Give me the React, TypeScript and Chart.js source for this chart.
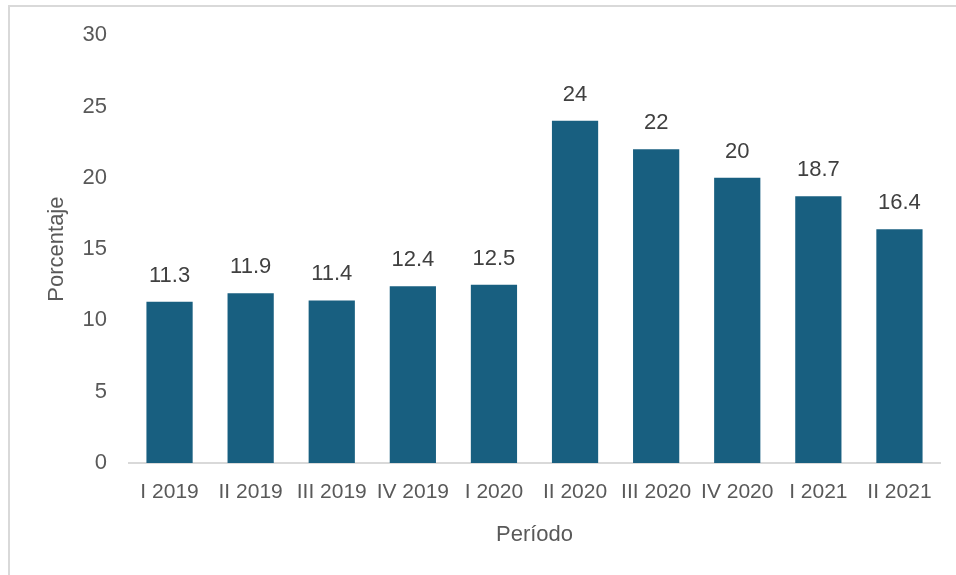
import React, { useEffect, useRef } from "react";
import { Chart, registerables } from "chart.js";

Chart.register(...registerables);

const categories = ["I 2019", "II 2019", "III 2019", "IV 2019", "I 2020", "II 2020", "III 2020", "IV 2020", "I 2021", "II 2021"];
const values = [11.3, 11.9, 11.4, 12.4, 12.5, 24, 22, 20, 18.7, 16.4];
const valueLabels = ["11.3", "11.9", "11.4", "12.4", "12.5", "24", "22", "20", "18.7", "16.4"];
const yTicks = [0, 5, 10, 15, 20, 25, 30];

const FONT = "'Liberation Sans', Arial, sans-serif";

const dataLabelPlugin = {
  id: "dataLabels",
  afterDatasetsDraw(chart: any) {
    const ctx = chart.ctx;
    const meta = chart.getDatasetMeta(0);
    ctx.save();
    ctx.font = `22px ${FONT}`;
    ctx.fillStyle = "#404040";
    ctx.textAlign = "center";
    ctx.textBaseline = "middle";
    meta.data.forEach((el: any, i: number) => {
      ctx.fillText(valueLabels[i], el.x, el.y - 26);
    });
    ctx.restore();
  },
};

export default function App() {
  const ref = useRef<HTMLCanvasElement>(null);
  useEffect(() => {
    if (!ref.current) return;
    const chart = new Chart(ref.current, {
      type: "bar",
      data: {
        labels: categories,
        datasets: [
          {
            data: values,
            backgroundColor: "#185f80",
            borderWidth: 0,
            categoryPercentage: 1,
            barPercentage: 0.57,
          },
        ],
      },
      options: {
        animation: false,
        responsive: false,
        devicePixelRatio: 1,
        layout: { padding: { left: 0, top: 34, right: 16, bottom: 0 } },
        plugins: { legend: { display: false }, tooltip: { enabled: false } },
        scales: {
          x: {
            grid: { display: false, drawTicks: false },
            border: { display: true, color: "#d9d9d9", width: 2 },
            ticks: { color: "#595959", font: { family: FONT, size: 21 }, padding: 17, maxRotation: 0, autoSkip: false },
            title: { display: true, text: "Período", color: "#595959", font: { family: FONT, size: 22 }, padding: { top: 0, bottom: 27 } },
            afterFit: (s: any) => { s.height = 112; },
          },
          y: {
            min: 0,
            max: 30,
            afterBuildTicks: (s: any) => { s.ticks = yTicks.map((v) => ({ value: v })); },
            grid: { display: false, drawTicks: false },
            border: { display: false },
            ticks: { color: "#595959", font: { family: FONT, size: 22 }, padding: 22 },
            title: { display: true, text: "Porcentaje", color: "#595959", font: { family: FONT, size: 22 }, padding: { top: 44, bottom: 0 } },
            afterFit: (s: any) => { s.width = 129; },
          },
        },
      },
      plugins: [dataLabelPlugin],
    });
    return () => chart.destroy();
  }, []);
  return (
    <div>
      <div style={{ position: "fixed", left: 8, top: 5, width: 1000, height: 700, borderLeft: "2px solid #d9d9d9", borderTop: "2px solid #d9d9d9", background: "#fff" }} />
      <canvas ref={ref} width={956} height={575} style={{ position: "fixed", left: 0, top: 0, width: 956, height: 575 }} />
    </div>
  );
}
